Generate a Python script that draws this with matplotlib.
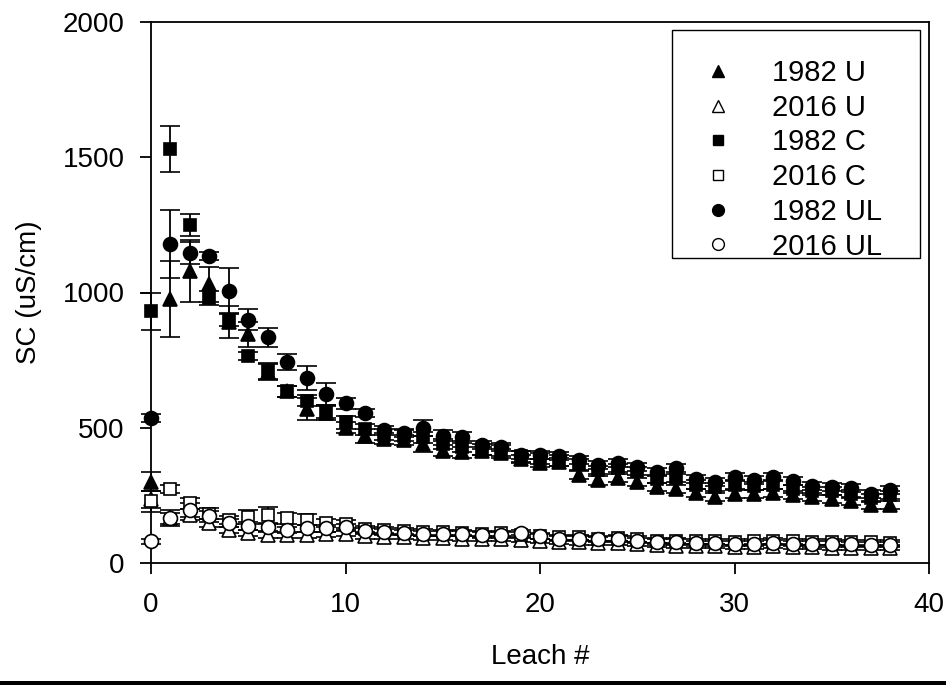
import matplotlib
matplotlib.use("Agg")
import matplotlib.pyplot as plt
from matplotlib.lines import Line2D
from matplotlib.patches import Rectangle

plt.rcParams['font.family'] = ['Liberation Sans', 'DejaVu Sans']

leach = list(range(39))

u1982 = [300, 975, 1080, 1030, 890, 845, 705, 635, 570, 555, 500, 470, 460, 455, 440, 415,
         410, 415, 405, 385, 370, 375, 325, 305, 315, 300, 280, 275, 260, 245, 255, 255,
         260, 250, 245, 235, 230, 215, 215]
u1982_err = [35, 140, 115, 65, 60, 45, 30, 20, 40, 25, 20, 25, 20, 20, 30, 20, 20, 15, 15, 15,
             15, 15, 15, 15, 15, 15, 15, 15, 15, 15, 15, 15, 15, 15, 15, 15, 15, 15, 15]

u2016 = [235, 165, 178, 148, 122, 111, 104, 104, 104, 106, 108, 100, 97, 95, 92, 92, 90, 88,
         88, 86, 82, 78, 76, 74, 74, 70, 66, 64, 62, 62, 60, 60, 62, 60, 58, 57, 56, 56, 55]
u2016_err = [30, 20, 20, 15, 10, 10, 10, 10, 10, 10, 10, 10, 10, 8, 8, 8, 8, 8, 8, 8, 8, 8, 8,
             8, 8, 8, 8, 8, 8, 8, 8, 8, 8, 8, 8, 8, 8, 8, 8]

c1982 = [930, 1530, 1250, 980, 900, 765, 710, 635, 600, 560, 520, 495, 475, 470, 465, 440,
         430, 420, 415, 395, 385, 380, 365, 345, 350, 340, 310, 315, 290, 280, 290, 285,
         290, 275, 265, 265, 255, 240, 250]
c1982_err = [70, 85, 40, 25, 25, 15, 30, 20, 20, 25, 25, 20, 20, 20, 20, 20, 20, 20, 20, 20,
             20, 20, 20, 15, 15, 15, 15, 15, 15, 15, 15, 15, 15, 15, 15, 15, 15, 15, 15]

c2016 = [228, 272, 220, 182, 158, 170, 176, 165, 160, 148, 145, 125, 122, 118, 115, 113, 112,
         108, 110, 105, 100, 95, 95, 90, 93, 88, 83, 83, 80, 80, 78, 80, 82, 80, 78, 77, 76,
         76, 75]
c2016_err = [40, 15, 20, 20, 15, 25, 30, 20, 20, 15, 15, 12, 12, 10, 10, 10, 10, 10, 10, 10,
             10, 10, 10, 10, 10, 10, 10, 10, 10, 10, 10, 10, 10, 10, 10, 10, 10, 10, 10]

ul1982 = [535, 1180, 1145, 1135, 1005, 900, 835, 742, 683, 625, 590, 555, 490, 480, 500, 470,
          465, 435, 430, 400, 400, 395, 380, 362, 370, 356, 335, 350, 310, 298, 318, 308,
          318, 302, 285, 282, 278, 255, 270]
ul1982_err = [15, 125, 40, 15, 85, 40, 35, 30, 45, 40, 20, 15, 15, 15, 30, 20, 20, 15, 15, 15,
              15, 15, 15, 15, 15, 15, 15, 15, 15, 15, 15, 15, 15, 15, 15, 15, 15, 15, 15]

ul2016 = [80, 165, 195, 172, 148, 137, 134, 122, 128, 128, 133, 118, 115, 112, 108, 108, 108,
          104, 104, 112, 98, 90, 90, 87, 88, 83, 77, 77, 73, 73, 72, 72, 75, 72, 70, 70, 69,
          68, 68]
ul2016_err = [10, 30, 25, 20, 15, 15, 15, 12, 12, 12, 12, 10, 10, 10, 10, 10, 10, 10, 10, 10,
              10, 10, 10, 10, 10, 10, 10, 10, 10, 10, 10, 10, 10, 10, 10, 10, 10, 10, 10]

labels = ['1982 U', '2016 U', '1982 C', '2016 C', '1982 UL', '2016 UL']
series = [u1982, u2016, c1982, c2016, ul1982, ul2016]
errors = [u1982_err, u2016_err, c1982_err, c2016_err, ul1982_err, ul2016_err]
markers = ['^', '^', 's', 's', 'o', 'o']
filled = [True, False, True, False, True, False]
msizes = [10, 10, 9, 9, 10, 10]

fig = plt.figure(figsize=(9.46, 6.85), dpi=100)
ax = fig.add_axes([151/946, 1 - 563/685, 778/946, 541/685])

for y, e, m, f, ms in zip(series, errors, markers, filled, msizes):
    cont = ax.errorbar(leach, y, yerr=e, fmt=m, ms=ms,
                       mfc='black' if f else 'white', mec='black', mew=1.2,
                       ecolor='black', elinewidth=1.3, capsize=7, capthick=1.3, zorder=3)
    for child in cont.get_children():
        child.set_clip_on(False)

ax.set_xlim(0, 40)
ax.set_ylim(0, 2000)
ax.set_xticks([0, 10, 20, 30, 40])
ax.set_yticks([0, 500, 1000, 1500, 2000])
ax.tick_params(axis='both', direction='out', length=8, width=1.3, labelsize=20)
ax.tick_params(axis='x', pad=13)
ax.tick_params(axis='y', pad=11)
for s in ax.spines.values():
    s.set_linewidth(1.3)

ax.set_xlabel('Leach #', fontsize=20)
ax.set_ylabel('SC (uS/cm)', fontsize=20)
ax.xaxis.set_label_coords(0.5, -0.150)
ax.yaxis.set_label_coords(-0.14, 0.5)

handles = [Line2D([], [], linestyle='none', marker=m, ms=ms * 0.85,
                  mfc='black' if f else 'white', mec='black', mew=1.0)
           for m, f, ms in zip(markers, filled, msizes)]
leg = ax.legend(handles, labels, loc='upper left', bbox_to_anchor=(0.7095, 0.9316),
                fontsize=21, frameon=False, labelspacing=0.23, handletextpad=1.38,
                borderpad=0, borderaxespad=0, handlelength=1.0)
leg.set_zorder(5)

ax.add_patch(Rectangle((0.6697, 0.5638), 0.9884 - 0.6697, 0.9852 - 0.5638,
                       transform=ax.transAxes, facecolor='white', edgecolor='black',
                       linewidth=1.0, zorder=4))

fig.add_artist(Rectangle((0, 0), 1, 4/685, transform=fig.transFigure,
                         facecolor='black', edgecolor='none'))

fig.savefig('out.png', dpi=100)
